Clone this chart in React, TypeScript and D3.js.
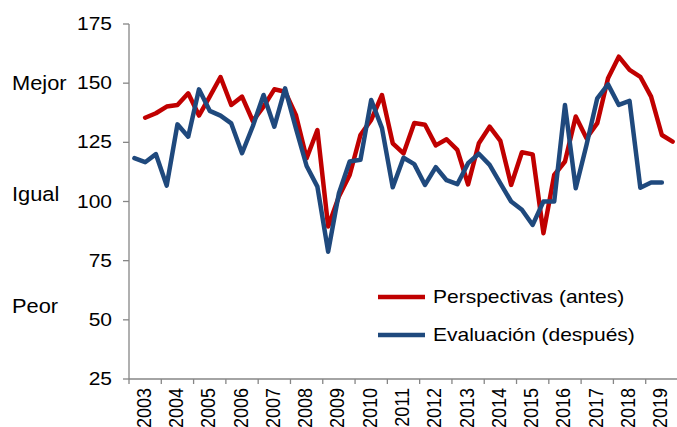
import React, { useEffect, useRef } from 'react'
import * as d3 from 'd3'

// Años del eje X (tres observaciones por año)
const years = ['2003', '2004', '2005', '2006', '2007', '2008', '2009', '2010', '2011',
  '2012', '2013', '2014', '2015', '2016', '2017', '2018', '2019']
const periodsPerYear = 3

// Perspectivas (antes) — sin dato en la primera observación
const perspectivas: (number | null)[] = [
  null, 135.4, 137.3, 140.1, 140.8, 145.7, 136.3, 144.3, 152.6, 140.8,
  144.3, 134, 140.1, 147.4, 146.4, 136.6, 118.3, 130.2, 89.4, 102.1,
  111.2, 128.1, 134.5, 145, 124.6, 120.3, 133.2, 132.4, 123.7, 126.3,
  121.8, 107.2, 124.6, 131.6, 125.6, 107, 120.8, 119.9, 86.6, 111.2,
  116.9, 135.9, 126.7, 133.1, 152.1, 161.2, 155.6, 152.7, 144.3, 128.1,
  125.3,
]

// Evaluación (después) — sin dato en la última observación
const evaluacion: (number | null)[] = [
  118.3, 116.6, 120, 106.7, 132.6, 127.4, 147.4, 138.3, 136.3, 133,
  120.4, 131.8, 145, 131.6, 147.8, 131, 115, 106.3, 78.8, 103.5,
  116.9, 117.6, 142.9, 131, 106, 118.5, 115.8, 107, 114.5, 109,
  107.3, 116.2, 120.2, 115.5, 107.7, 100, 96.5, 90.1, 100, 100,
  140.8, 105.6, 123.9, 143.6, 149.5, 140.8, 142.5, 105.8, 108, 108,
  null,
]

const yTicks = [25, 50, 75, 100, 125, 150, 175]
const sideLabels = [
  { text: 'Mejor', value: 150 },
  { text: 'Igual', value: 103 },
  { text: 'Peor', value: 56 },
]
const legendItems = [
  { text: 'Perspectivas (antes)', color: '#C00000' },
  { text: 'Evaluación (después)', color: '#1F497D' },
]

export default function App() {
  const svgRef = useRef<SVGSVGElement>(null)

  useEffect(() => {
    if (!svgRef.current) return
    const svg = d3.select(svgRef.current)
    svg.selectAll('*').remove()

    const width = 677
    const left = 129
    const right = 678
    const top = 24
    const bottom = 379
    const axisColor = '#868686'
    const font = 'Liberation Sans, Arial, sans-serif'

    const y = d3.scaleLinear().domain([25, 175]).range([bottom, top])
    const xYear = d3.scaleBand().domain(years).range([left, right])
    const slots = d3.range(years.length * periodsPerYear)
    const x = d3.scalePoint<number>().domain(slots).range([left, right]).padding(0.5)

    // eje Y
    svg.append('line')
      .attr('x1', left).attr('x2', left)
      .attr('y1', top).attr('y2', bottom)
      .attr('stroke', axisColor).attr('stroke-width', 1.3)

    yTicks.forEach(t => {
      svg.append('line')
        .attr('x1', left - 6).attr('x2', left)
        .attr('y1', y(t)).attr('y2', y(t))
        .attr('stroke', axisColor).attr('stroke-width', 1.3)
      svg.append('text')
        .attr('transform', `translate(${left - 17},${y(t) + 6}) scale(1.2,1)`)
        .attr('text-anchor', 'end')
        .attr('font-family', font)
        .attr('font-size', 17.5)
        .attr('fill', '#000')
        .text(t)
    })

    sideLabels.forEach(s => {
      svg.append('text')
        .attr('transform', `translate(12,${y(s.value) + 7}) scale(1.12,1)`)
        .attr('font-family', font)
        .attr('font-size', 19.5)
        .attr('fill', '#000')
        .text(s.text)
    })

    // eje X
    svg.append('line')
      .attr('x1', left).attr('x2', width)
      .attr('y1', bottom).attr('y2', bottom)
      .attr('stroke', axisColor).attr('stroke-width', 1.3)

    years.forEach(yr => {
      const x0 = xYear(yr)!
      svg.append('line')
        .attr('x1', x0).attr('x2', x0)
        .attr('y1', bottom).attr('y2', bottom + 5)
        .attr('stroke', axisColor).attr('stroke-width', 1.3)
      svg.append('text')
        .attr('transform', `translate(${x0 + xYear.bandwidth() / 2 + 5.5},${bottom + 9}) scale(1.1,1) rotate(-90)`)
        .attr('text-anchor', 'end')
        .attr('font-family', font)
        .attr('font-size', 18)
        .attr('fill', '#000')
        .text(yr)
    })

    const line = d3.line<number | null>()
      .defined(d => d != null)
      .x((_, i) => x(i)!)
      .y(d => y(d as number))

    svg.append('path')
      .datum(perspectivas)
      .attr('d', line)
      .attr('fill', 'none')
      .attr('stroke', legendItems[0].color)
      .attr('stroke-width', 4.5)
      .attr('stroke-linejoin', 'round')
      .attr('stroke-linecap', 'round')

    svg.append('path')
      .datum(evaluacion)
      .attr('d', line)
      .attr('fill', 'none')
      .attr('stroke', legendItems[1].color)
      .attr('stroke-width', 4.5)
      .attr('stroke-linejoin', 'round')
      .attr('stroke-linecap', 'round')

    // leyenda
    legendItems.forEach((item, i) => {
      const ly = 297 + i * 38
      svg.append('line')
        .attr('x1', 378).attr('x2', 425)
        .attr('y1', ly).attr('y2', ly)
        .attr('stroke', item.color)
        .attr('stroke-width', 4.5)
      svg.append('text')
        .attr('transform', `translate(433,${ly + 6}) scale(1.2,1)`)
        .attr('font-family', font)
        .attr('font-size', 17.5)
        .attr('fill', '#000')
        .text(item.text)
    })
  }, [])

  return (
    <svg
      ref={svgRef}
      width={677}
      height={427}
      style={{ position: 'absolute', left: 0, top: 0, background: '#fff' }}
    />
  )
}
